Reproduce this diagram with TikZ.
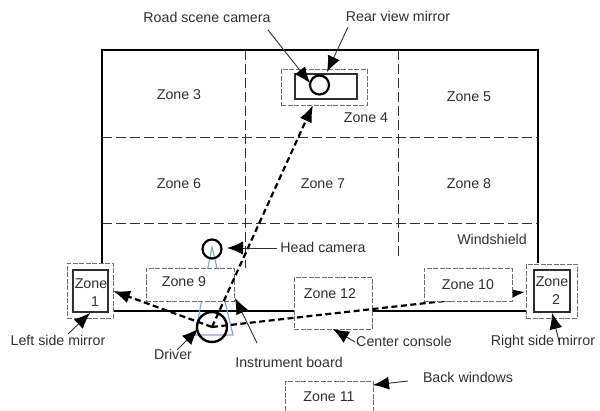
\documentclass[tikz,border=0pt]{standalone}
\usepackage{fontspec}
\setmainfont{Liberation Sans}
\usetikzlibrary{arrows.meta}
\definecolor{ink}{HTML}{303030}
\definecolor{zonegray}{HTML}{707070}
\definecolor{coneblue}{HTML}{7FA6DA}
\tikzset{
  lab/.style={font=\fontsize{14.2}{16}\selectfont,text=ink,inner sep=0pt},
  zonebox/.style={draw=zonegray,line width=1pt,dash pattern=on 5pt off 1.5pt,fill=white},
  solidbox/.style={draw=ink,line width=2.4pt,fill=white},
  wall/.style={draw=black,line width=2.2pt},
  grid/.style={draw=ink,line width=1pt,dash pattern=on 10pt off 4pt},
  pointer/.style={draw=ink,line width=0.9pt,-{Latex[length=16pt,width=13pt,black]}},
  sight/.style={draw=black,line width=2.2pt,dash pattern=on 6pt off 3.5pt,-{Latex[length=17pt,width=13pt,black]}},
  ring/.style={draw=black,circle,inner sep=0pt,fill=none}
}
\begin{document}
\begin{tikzpicture}[x=1pt,y=-1pt]
\useasboundingbox (0,0) rectangle (600,410);
% grid
\draw[grid] (102,137) -- (538,137);
\draw[grid] (102,223) -- (538,223);
\draw[grid] (245,50) -- (245,268);
\draw[grid] (398,50) -- (398,258);
% walls
\draw[wall] (102,263) -- (102,50) -- (538,50) -- (538,263);
\draw[wall] (113,311) -- (294,311);
\draw[wall] (372,311) -- (526,311);
% cone
\draw[coneblue,line width=1.1pt] (212,247) -- (233,335) -- (195,335) -- cycle;
% zones with boxes
\node[zonebox,minimum width=46pt,minimum height=55pt,inner sep=0pt] (z1o) at (90,290.5) {};
\node[solidbox,minimum width=35pt,minimum height=42pt,inner sep=0pt] (z1) at (90.5,291) {};
\node[zonebox,minimum width=51pt,minimum height=54pt,inner sep=0pt] (z2o) at (551.5,291) {};
\node[solidbox,minimum width=36pt,minimum height=42pt,inner sep=0pt] (z2) at (552,291) {};
\node[zonebox,minimum width=86pt,minimum height=36pt,inner sep=0pt] (camo) at (324,87) {};
\node[solidbox,minimum width=62pt,minimum height=25pt,inner sep=0pt] (cam) at (326,86.5) {};
\node[ring,line width=2.2pt,minimum size=19pt] (lens) at (319.5,85) {};
\node[zonebox,minimum width=88pt,minimum height=33pt,inner sep=0pt] (z9) at (190,284.5) {};
\node[zonebox,minimum width=78pt,minimum height=52pt,inner sep=0pt] (z12) at (333,303) {};
\node[zonebox,minimum width=88pt,minimum height=40pt,inner sep=0pt] (z11) at (329,401) {};
% circles
\node[ring,line width=2.2pt,minimum size=19pt] (head) at (212,249) {};
\node[ring,line width=2.4pt,minimum size=30pt] (driver) at (212,327) {};
% free ends
\coordinate (tipm1) at (113,291);
\coordinate (tipm2) at (525,292);
\coordinate (tipcam) at (313,105);
% sight lines
\draw[sight] (driver.center) -- (tipm1);
\draw[sight] (driver.center) -- (tipm2);
\draw[sight] (driver.center) -- (tipcam);
\node[zonebox,minimum width=88pt,minimum height=33pt,inner sep=0pt] (z10) at (468,284.5) {};
% labels
\node[lab] (t3) at (179,95) {Zone 3};
\node[lab] (t4) at (366,118) {Zone 4};
\node[lab] (t5) at (469,97) {Zone 5};
\node[lab] (t6) at (179,184) {Zone 6};
\node[lab] (t7) at (323,184) {Zone 7};
\node[lab] (t8) at (469,184) {Zone 8};
\node[lab] (t9) at (184,282) {Zone 9};
\node[lab] (t12) at (330,294) {Zone 12};
\node[lab] (t10) at (468,285) {Zone 10};
\node[lab] (t11) at (329,397) {Zone 11};
\node[lab] (t1a) at (91,284) {Zone};
\node[lab] (t1b) at (95,302) {1};
\node[lab] (t2a) at (552,282) {Zone};
\node[lab] (t2b) at (556,300) {2};
\node[lab] (tw) at (492,239) {Windshield};
\node[lab] (lroad) at (207,17) {Road scene camera};
\node[lab] (lrear) at (398,16) {Rear view mirror};
\node[lab] (lhead) at (323,247) {Head camera};
\node[lab] (lleft) at (58,340) {Left side mirror};
\node[lab] (ldriver) at (173,354) {Driver};
\node[lab] (linst) at (289,362) {Instrument board};
\node[lab] (lcons) at (404,341) {Center console};
\node[lab] (lright) at (543,342) {Right side mirror};
\node[lab] (lback) at (468,377) {Back windows};
% pointers
\coordinate (a1) at (268,30);   \coordinate (b1) at (310,83);
\coordinate (a2) at (348,27);   \coordinate (b2) at (327,72);
\coordinate (a3) at (277,248);  \coordinate (b3) at (227,248);
\coordinate (a4) at (68,334);   \coordinate (b4) at (90,313);
\coordinate (a5) at (177,350);  \coordinate (b5) at (198,329);
\coordinate (a6) at (257,343);  \coordinate (b6) at (235,298);
\coordinate (a7) at (355,342);  \coordinate (b7) at (333,329);
\coordinate (a8) at (560,345);  \coordinate (b8) at (552,313);
\coordinate (a9) at (408,381);  \coordinate (b9) at (373,385);
\foreach \i in {1,...,9} \draw[pointer] (a\i) -- (b\i);
\end{tikzpicture}
\end{document}
